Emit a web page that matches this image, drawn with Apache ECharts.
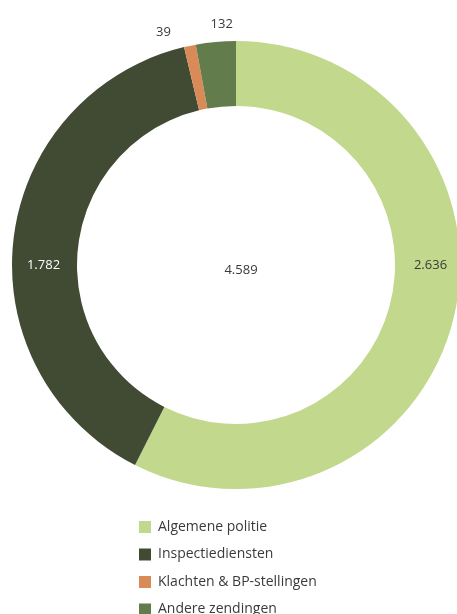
<!DOCTYPE html>
<html>
<head>
<meta charset="utf-8">
<script src="https://cdn.jsdelivr.net/npm/echarts@6/dist/echarts.min.js"></script>
<style>
html,body{margin:0;padding:0;background:#fff;}
#chart{width:457px;height:614px;}
</style>
</head>
<body>
<div id="chart"></div>
<script>
var categories = ['Algemene politie', 'Inspectiediensten', 'Klachten & BP-stellingen', 'Andere zendingen'];
var values = [2636, 1782, 39, 132];
var colors = ['#c2d88c', '#414a33', '#d98b57', '#627d4b'];
var labelColors = ['#3a3a3a', '#ffffff', '#3a3a3a', '#3a3a3a'];
var outsideLabel = [false, false, true, true];

function fmt(v) {
  return String(v).replace(/\B(?=(\d{3})+(?!\d))/g, '.');
}
var total = values.reduce(function (a, b) { return a + b; }, 0);

var CX = 236, CY = 265, R0 = 159, R1 = 224;
var midR = (R0 + R1) / 2 + 3;

var chart = echarts.init(document.getElementById('chart'));
var fontFam = '"Open Sans", "Noto Sans", sans-serif';
chart.setOption({
  animation: false,
  color: colors,
  title: {
    text: fmt(total),
    left: CX,
    top: CY,
    textAlign: 'center',
    textVerticalAlign: 'middle',
    textStyle: { fontSize: 13, fontWeight: 'normal', color: '#3a3a3a', fontFamily: fontFam }
  },
  legend: {
    orient: 'vertical',
    left: 139,
    top: 520,
    height: 140,
    padding: 0,
    itemWidth: 12,
    itemHeight: 12,
    itemGap: 13.5,
    icon: 'rect',
    textStyle: { fontSize: 14, color: '#3a3a3a', fontFamily: fontFam, padding: [0, 0, 0, 2] },
    data: categories
  },
  series: [{
    type: 'pie',
    center: [CX, CY],
    radius: [R0, R1],
    startAngle: 90,
    clockwise: true,
    avoidLabelOverlap: false,
    data: categories.map(function (c, i) {
      return {
        name: c,
        value: values[i],
        label: outsideLabel[i] ? {
          position: 'outside',
          color: labelColors[i]
        } : {
          position: 'inside',
          color: labelColors[i]
        },
        labelLine: { show: false, length: 10, length2: 0 }
      };
    }),
    label: {
      formatter: function (p) { return fmt(p.value); },
      fontSize: 13,
      fontFamily: fontFam
    },
    labelLayout: function (p) {
      if (p.dataIndex === 0) return { x: CX + midR, y: CY, align: 'center', verticalAlign: 'middle' };
      if (p.dataIndex === 1) return { x: CX - midR + 2, y: CY, align: 'center', verticalAlign: 'middle' };
      if (p.dataIndex === 2) return { dx: -12, dy: -4 };
      if (p.dataIndex === 3) return { dx: 23, dy: -8 };
      return {};
    }
  }]
});
</script>
</body>
</html>
